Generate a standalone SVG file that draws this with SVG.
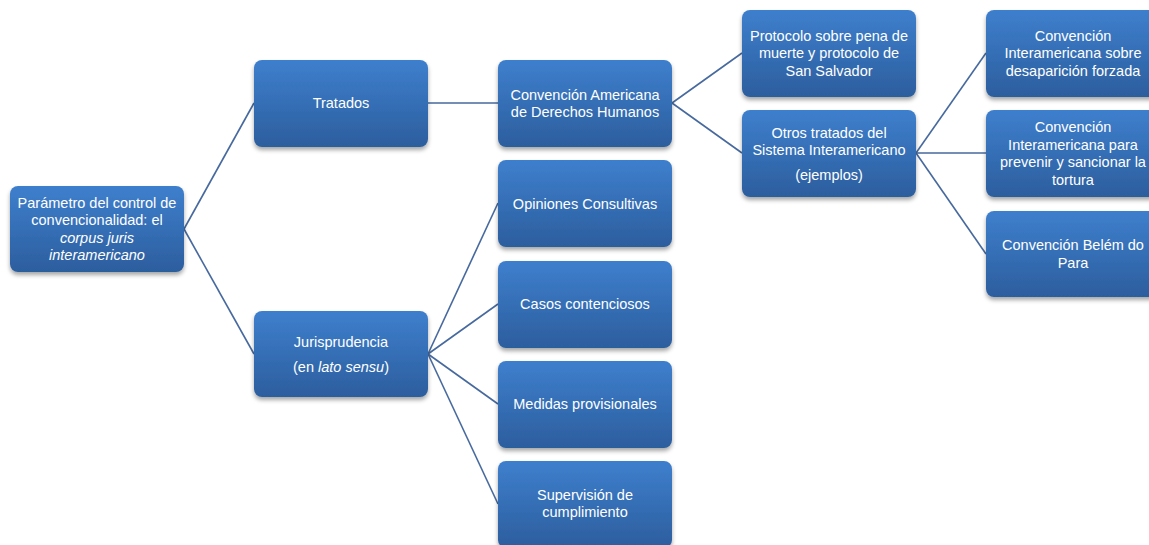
<svg xmlns="http://www.w3.org/2000/svg" width="1149" height="545" viewBox="0 0 1149 545">
<defs>
<linearGradient id="g" x1="0" y1="0" x2="0" y2="1">
<stop offset="0" stop-color="#3e7fcd"/>
<stop offset="1" stop-color="#2c5e9e"/>
</linearGradient>
<filter id="sh" x="-10%" y="-10%" width="125%" height="130%">
<feDropShadow dx="0" dy="3" stdDeviation="2.2" flood-color="#000" flood-opacity="0.35"/>
</filter>
<style>
.box{fill:url(#g);filter:url(#sh)}
.t{font-family:"Liberation Sans",Arial,sans-serif;font-size:14.5px;fill:#fff;text-anchor:middle}
.c{stroke:#46699e;stroke-width:1.6;fill:none}
</style>
</defs>
<rect width="1149" height="545" fill="#fff"/>
<g id="connectors">
<line class="c" x1="184" y1="229" x2="254" y2="103"/>
<line class="c" x1="184" y1="229" x2="254" y2="354"/>
<line class="c" x1="428" y1="103" x2="498" y2="103"/>
<line class="c" x1="672" y1="103" x2="742" y2="53"/>
<line class="c" x1="672" y1="103" x2="742" y2="153"/>
<line class="c" x1="428" y1="354" x2="498" y2="203"/>
<line class="c" x1="428" y1="354" x2="498" y2="304"/>
<line class="c" x1="428" y1="354" x2="498" y2="404"/>
<line class="c" x1="428" y1="354" x2="498" y2="504"/>
<line class="c" x1="916" y1="153" x2="986" y2="53"/>
<line class="c" x1="916" y1="153" x2="986" y2="153"/>
<line class="c" x1="916" y1="153" x2="986" y2="254"/>
</g>
<g id="root">
<rect class="box" x="10" y="186" width="174" height="86" rx="8"/>
<text class="t" x="97" y="208">Parámetro del control de</text>
<text class="t" x="97" y="225">convencionalidad: el</text>
<text class="t" x="97" y="243" font-style="italic">corpus juris</text>
<text class="t" x="97" y="260" font-style="italic">interamericano</text>
</g>
<g id="tratados">
<rect class="box" x="254" y="60" width="174" height="87" rx="8"/>
<text class="t" x="341" y="108">Tratados</text>
</g>
<g id="jurisprudencia">
<rect class="box" x="254" y="311" width="174" height="86" rx="8"/>
<text class="t" x="341" y="347">Jurisprudencia</text>
<text class="t" x="341" y="372">(en <tspan font-style="italic">lato sensu</tspan>)</text>
</g>
<g id="cadh">
<rect class="box" x="498" y="60" width="174" height="87" rx="8"/>
<text class="t" x="585" y="100">Convención Americana</text>
<text class="t" x="585" y="117">de Derechos Humanos</text>
</g>
<g id="opiniones">
<rect class="box" x="498" y="160" width="174" height="87" rx="8"/>
<text class="t" x="585" y="209">Opiniones Consultivas</text>
</g>
<g id="casos">
<rect class="box" x="498" y="261" width="174" height="87" rx="8"/>
<text class="t" x="585" y="309">Casos contenciosos</text>
</g>
<g id="medidas">
<rect class="box" x="498" y="361" width="174" height="87" rx="8"/>
<text class="t" x="585" y="409">Medidas provisionales</text>
</g>
<g id="supervision">
<rect class="box" x="498" y="461" width="174" height="87" rx="8"/>
<text class="t" x="585" y="500">Supervisión de</text>
<text class="t" x="585" y="517">cumplimiento</text>
</g>
<g id="protocolo">
<rect class="box" x="742" y="10" width="174" height="87" rx="8"/>
<text class="t" x="829" y="41">Protocolo sobre pena de</text>
<text class="t" x="829" y="58">muerte y protocolo de</text>
<text class="t" x="829" y="76">San Salvador</text>
</g>
<g id="otros">
<rect class="box" x="742" y="110" width="174" height="87" rx="8"/>
<text class="t" x="829" y="138">Otros tratados del</text>
<text class="t" x="829" y="155">Sistema Interamericano</text>
<text class="t" x="829" y="180">(ejemplos)</text>
</g>
<g id="desaparicion">
<rect class="box" x="986" y="10" width="174" height="87" rx="8"/>
<text class="t" x="1073" y="41">Convención</text>
<text class="t" x="1073" y="58">Interamericana sobre</text>
<text class="t" x="1073" y="76">desaparición forzada</text>
</g>
<g id="tortura">
<rect class="box" x="986" y="110" width="174" height="87" rx="8"/>
<text class="t" x="1073" y="132">Convención</text>
<text class="t" x="1073" y="150">Interamericana para</text>
<text class="t" x="1073" y="167">prevenir y sancionar la</text>
<text class="t" x="1073" y="185">tortura</text>
</g>
<g id="belem">
<rect class="box" x="986" y="211" width="174" height="86" rx="8"/>
<text class="t" x="1073" y="250">Convención Belém do</text>
<text class="t" x="1073" y="268">Para</text>
</g>
</svg>
